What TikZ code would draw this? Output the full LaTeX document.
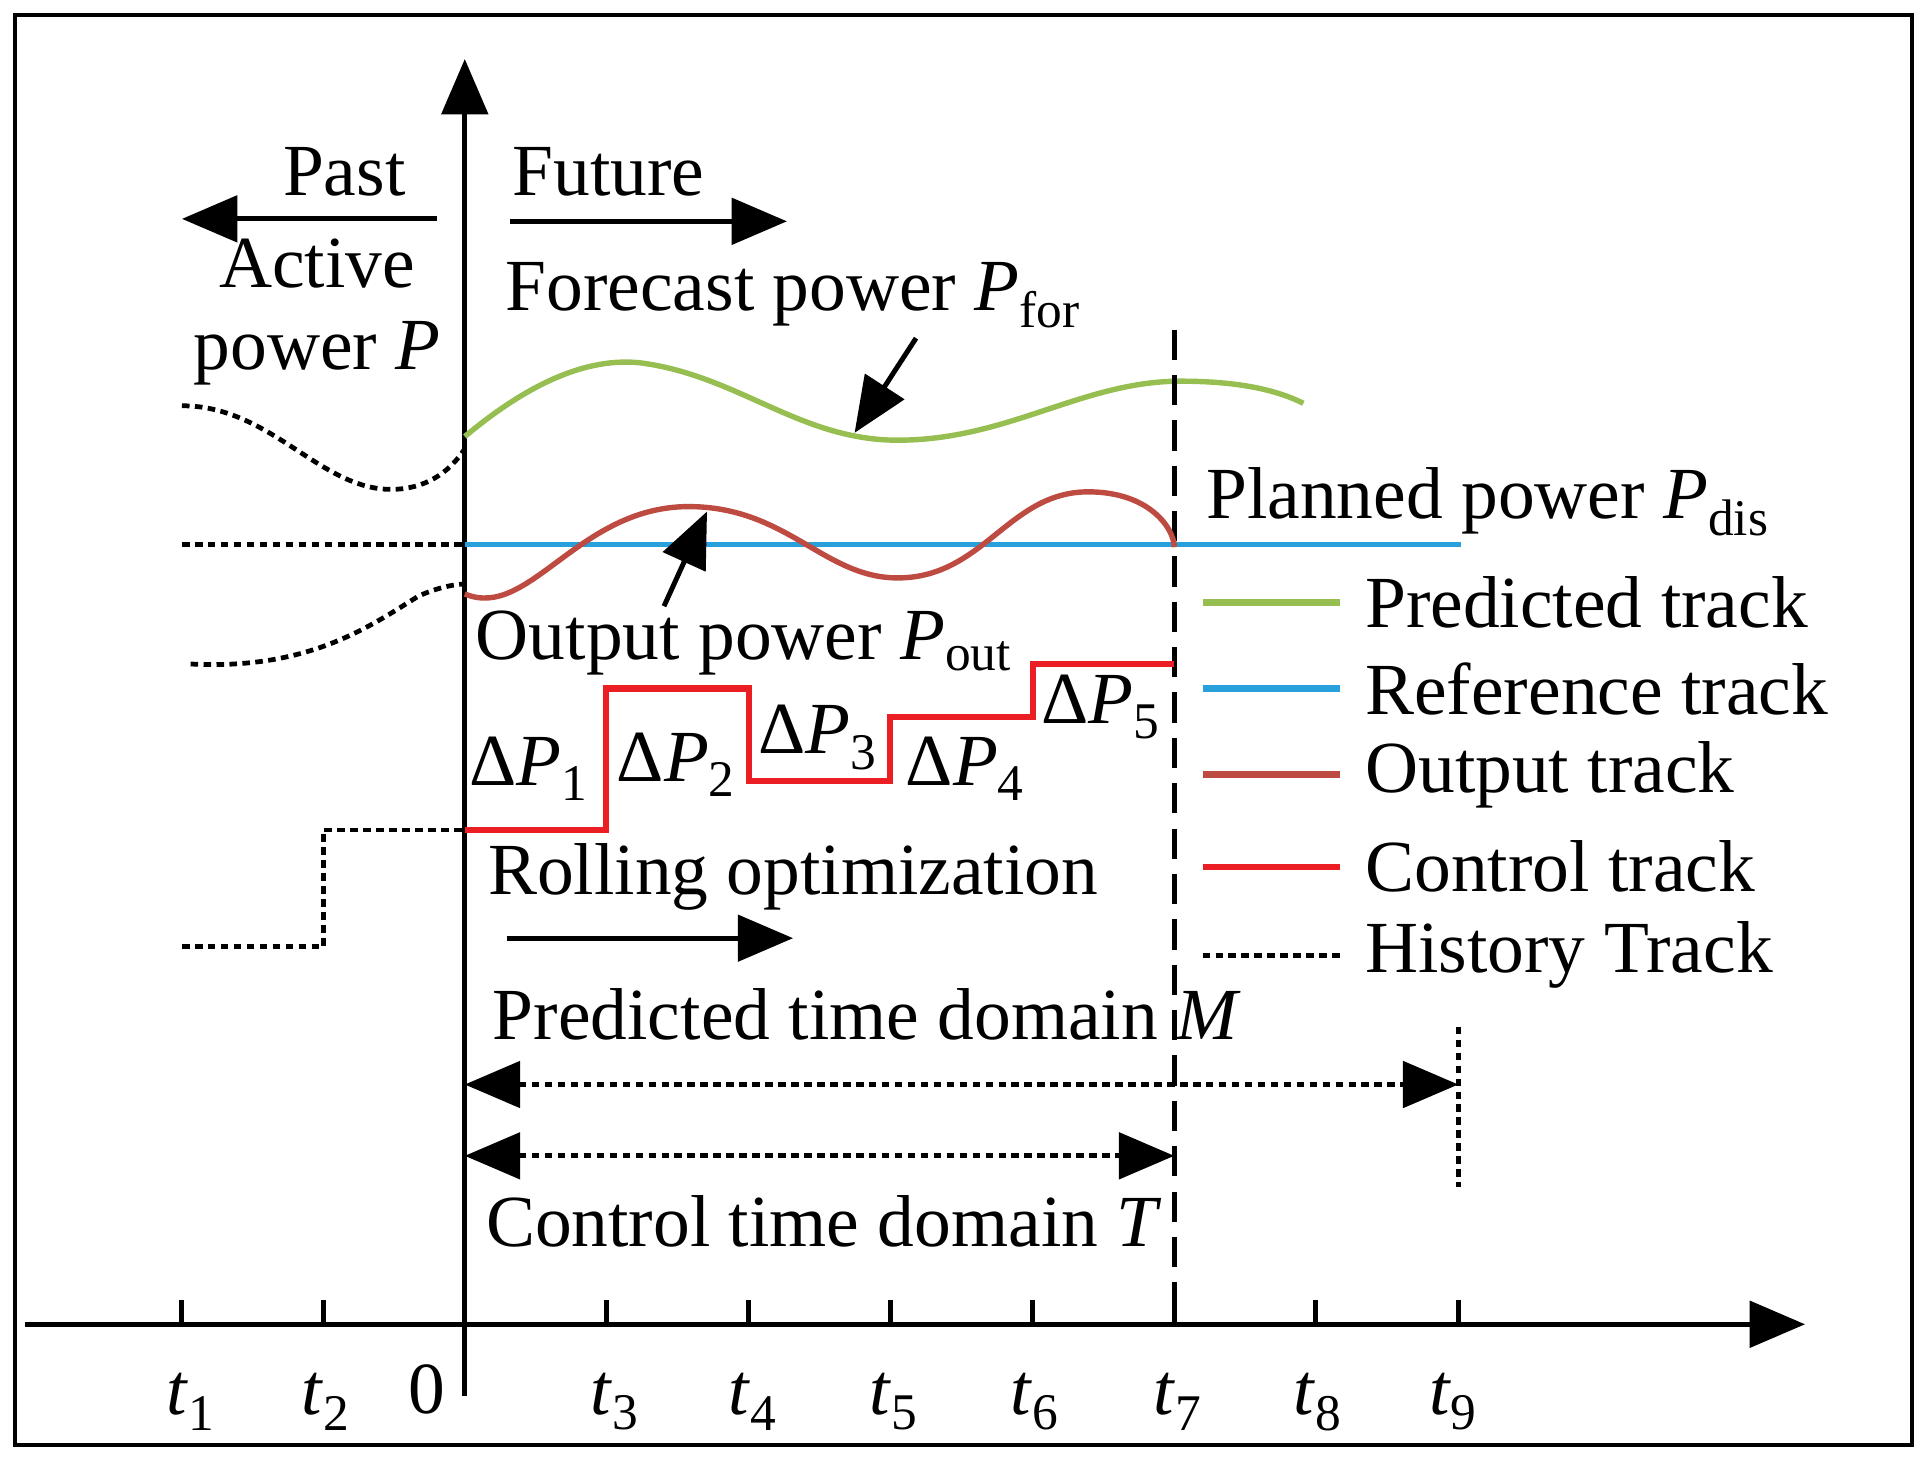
\documentclass[tikz,border=0pt]{standalone}
\usepackage{fontspec}
\setmainfont{Liberation Serif}
\usetikzlibrary{arrows.meta}
\newcommand{\myP}[1]{\textit{P}\textsubscript{#1}}
\newcommand{\myD}[1]{Δ\textit{P}\textsubscript{#1}}
\begin{document}
\begin{tikzpicture}[x=0.02cm,y=-0.02cm,
  txt/.style={font=\fontsize{34}{40}\selectfont,inner sep=0pt},
  big/.style={-{Triangle[length=0.9cm,width=0.75cm]}},
  hist/.style={line width=2.2pt,dash pattern=on 3.5pt off 2.5pt},
  ax/.style={line width=2.3pt}]
\useasboundingbox (0,0) rectangle (1568,1186);
\draw[line width=1.8pt] (12,12) rectangle (1555,1175);
% axes
\coordinate (xa) at (20,1077); \coordinate (xb) at (1468,1077);
\coordinate (ya) at (378,1135); \coordinate (yb) at (378,48);
\draw[ax,big] (xa) -- (xb);
\draw[ax,big] (ya) -- (yb);
\foreach \x in {148,263,493,609,724,840,955,1070,1186} \draw[ax] (\x,1057) -- (\x,1077);
\foreach \x/\n in {155/1,265/2,500/3,612/4,727/5,842/6,958/7,1072/8,1182/9}
  \node[txt] (t\n) at (\x,1140) {\textit{t}\textsubscript{\n}};
\node[txt] (zero) at (347,1130) {0};
% past/future
\node[txt] (past) at (280,140) {Past};
\node[txt] (fut) at (495,140) {Future};
\coordinate (pa) at (355,178); \coordinate (pb) at (148,178);
\coordinate (fa) at (415,180); \coordinate (fb) at (640,180);
\draw[ax,big] (pa) -- (pb);
\draw[ax,big] (fa) -- (fb);
\node[txt,align=center] (ap) at (258,254) {Active\\[-2pt]power \textit{P}};
% forecast
\node[txt] (fp) at (645,240) {Forecast power \myP{for}};
\draw[line width=2.5pt,color={rgb,255:red,150;green,190;blue,80}] (378,355) .. controls (420,320) and (470,290) .. (520,295) .. controls (600,305) and (650,358) .. (730,358) .. controls (820,358) and (880,310) .. (960,310) .. controls (1010,310) and (1040,318) .. (1060,328);
\coordinate (fa1) at (745,275); \coordinate (fa2) at (695,352);
\draw[ax,big] (fa1) -- (fa2);
% dashed vertical
\coordinate (v1) at (955,268); \coordinate (v2) at (955,1077);
\draw[line width=2.4pt,dash pattern=on 14pt off 7pt] (v1) -- (v2);
\coordinate (w1) at (1186,835); \coordinate (w2) at (1186,965);
\draw[hist] (w1) -- (w2);
% reference
\draw[line width=2.5pt,color={rgb,255:red,40;green,160;blue,220}] (378,443) -- (1188,443);
% history
\draw[hist] (148,443) -- (378,443);
\draw[hist] (148,330) .. controls (220,330) and (260,398) .. (318,398) .. controls (345,398) and (365,385) .. (378,365);
\draw[hist] (155,540) .. controls (250,545) and (300,510) .. (340,485) .. controls (355,478) and (370,475) .. (378,475);
\draw[hist] (148,770) -- (263,770) -- (263,675) -- (378,675);
% output
\draw[line width=2.5pt,color={rgb,255:red,190;green,75;blue,65}] (378,483) .. controls (430,505) and (470,412) .. (560,412) .. controls (640,412) and (670,470) .. (730,470) .. controls (800,470) and (820,400) .. (885,400) .. controls (935,400) and (955,430) .. (955,445);
\coordinate (oa1) at (540,493); \coordinate (oa2) at (575,416);
\draw[ax,big] (oa1) -- (oa2);
\node[txt] (op) at (605,523) {Output power \myP{out}};
% control
\draw[line width=3pt,color={rgb,255:red,235;green,30;blue,35}] (378,675) -- (493,675) -- (493,560) -- (609,560) -- (609,635) -- (724,635) -- (724,583) -- (840,583) -- (840,540) -- (955,540);
\node[txt] (d1) at (430,625) {\myD{1}};
\node[txt] (d2) at (550,622) {\myD{2}};
\node[txt] (d3) at (665,600) {\myD{3}};
\node[txt] (d4) at (785,625) {\myD{4}};
\node[txt] (d5) at (895,575) {\myD{5}};
\node[txt] (ro) at (645,713) {Rolling optimization};
\coordinate (r1) at (412,763); \coordinate (r2) at (645,763);
\draw[ax,big] (r1) -- (r2);
\node[txt] (pd) at (1210,408) {Planned power \myP{dis}};
% legend
\foreach \y/\c/\t in {490/{rgb,255:red,150;green,190;blue,80}/Predicted track,
  560/{rgb,255:red,40;green,160;blue,220}/Reference track,
  630/{rgb,255:red,190;green,75;blue,65}/Output track,
  705/{rgb,255:red,235;green,30;blue,35}/Control track}
  {\draw[line width=3pt,color=\c] (978,\y) -- (1090,\y);
   \node[txt,anchor=west] at (1110,\y) {\t};}
\draw[hist] (978,777) -- (1090,777);
\node[txt,anchor=west] (lh) at (1110,777) {History Track};
% domains
\node[txt] (pm) at (705,825) {Predicted time domain \textit{M}};
\coordinate (m1) at (378,882); \coordinate (m2) at (1186,882);
\draw[hist,{Triangle[length=0.9cm,width=0.75cm]}-{Triangle[length=0.9cm,width=0.75cm]}] (m1) -- (m2);
\coordinate (c1) at (378,940); \coordinate (c2) at (955,940);
\draw[hist,{Triangle[length=0.9cm,width=0.75cm]}-{Triangle[length=0.9cm,width=0.75cm]}] (c1) -- (c2);
\node[txt] (ct) at (670,993) {Control time domain \textit{T}};
\end{tikzpicture}
\end{document}
